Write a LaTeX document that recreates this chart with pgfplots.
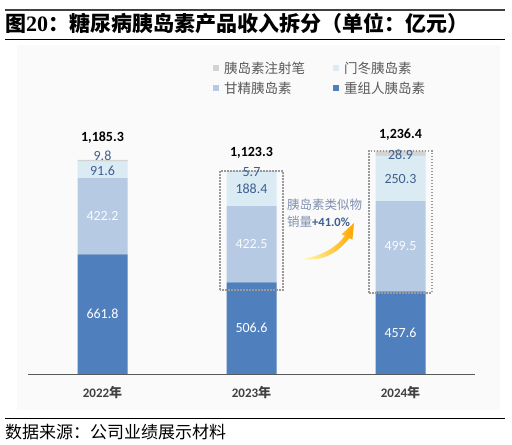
\documentclass[border=0pt]{standalone}
\usepackage{fontspec}
\usepackage{pgfplots}
\pgfplotsset{compat=1.18}
\setmainfont{Carlito}
\newfontfamily\cjk{Noto Sans CJK SC}
\newfontfamily\serifb{Liberation Serif}
\definecolor{cDark}{HTML}{4F7FBC}
\definecolor{cGan}{HTML}{B7CAE4}
\definecolor{cMen}{HTML}{DBEBF4}
\definecolor{cPen}{HTML}{D3D3D3}
\definecolor{cLab}{HTML}{3F5F8F}
\definecolor{cLeg}{HTML}{595959}
\definecolor{cAxis}{HTML}{595959}
\definecolor{cBox}{HTML}{9A9A9A}
\definecolor{cAnn}{HTML}{8090AE}
\begin{document}
\begin{tikzpicture}
\path[use as bounding box] (0,0) rectangle (512bp,445bp);
% background panel
\fill[white!98!black] (17bp,35bp) rectangle (500bp,400bp);
% rules
\draw[line width=2bp, black!75] (5bp,435bp) -- (505bp,435bp);
\draw[line width=0.8bp, black] (5bp,405.5bp) -- (505bp,405.5bp);
\draw[line width=0.8bp, black] (5bp,27bp) -- (505bp,27bp);
% title
\node[anchor=west, inner sep=0pt] at (5bp,422bp) {\fontsize{21bp}{24bp}\selectfont\cjk\bfseries 图{\serifb\bfseries\fontsize{22bp}{24bp}\selectfont 20}：糖尿病胰岛素产品收入拆分（单位：亿元）};
% source
\node[anchor=west, inner sep=0pt] at (5bp,13bp) {\fontsize{17bp}{19bp}\selectfont\cjk 数据来源：公司业绩展示材料};
% legend
\fill[cPen] (213bp,374bp) rectangle (219bp,380bp);
\node[anchor=west, inner sep=0pt, text=cLeg] at (224bp,377bp) {\fontsize{13.5bp}{15bp}\selectfont\cjk 胰岛素注射笔};
\fill[cMen] (333bp,374bp) rectangle (339bp,380bp);
\node[anchor=west, inner sep=0pt, text=cLeg] at (344bp,377bp) {\fontsize{13.5bp}{15bp}\selectfont\cjk 门冬胰岛素};
\fill[cGan] (213bp,354bp) rectangle (219bp,360bp);
\node[anchor=west, inner sep=0pt, text=cLeg] at (224bp,357bp) {\fontsize{13.5bp}{15bp}\selectfont\cjk 甘精胰岛素};
\fill[cDark] (333bp,354bp) rectangle (339bp,360bp);
\node[anchor=west, inner sep=0pt, text=cLeg] at (344bp,357bp) {\fontsize{13.5bp}{15bp}\selectfont\cjk 重组人胰岛素};
\begin{axis}[
  at={(28bp,71bp)}, anchor=south west,
  scale only axis, width=447bp, height=234.8bp,
  xmin=-0.5, xmax=2.5, ymin=0, ymax=1300,
  ybar stacked, bar width=50bp,
  axis y line=none, axis x line*=bottom,
  x axis line style={draw=cAxis, line width=0.8bp},
  xtick={0,1,2},
  xticklabels={2022{\cjk 年},2023{\cjk 年},2024{\cjk 年}},
  xtick style={draw=none},
  xticklabel style={anchor=center, yshift=-19bp, font=\fontsize{13bp}{15bp}\selectfont\bfseries, text=black!75},
  clip=false,
]
\addplot[fill=cDark, draw=none] coordinates {(0,661.8) (1,506.6) (2,457.6)};
\addplot[fill=cGan, draw=none] coordinates {(0,422.2) (1,422.5) (2,499.5)};
\addplot[fill=cMen, draw=none] coordinates {(0,91.6) (1,188.4) (2,250.3)};
\addplot[fill=cPen, draw=none] coordinates {(0,9.8) (1,5.7) (2,28.9)};
\coordinate (b1a) at (axis cs:0.79,465);
\coordinate (b1b) at (axis cs:1.21,1125);
\coordinate (b2a) at (axis cs:1.79,448);
\coordinate (b2b) at (axis cs:2.21,1236);
\coordinate (l01) at (axis cs:0,330.9);
\coordinate (l02) at (axis cs:0,872.9);
\coordinate (l03) at (axis cs:0,1124);
\coordinate (l04) at (axis cs:0,1208);
\coordinate (l05) at (axis cs:0,1310);
\coordinate (l11) at (axis cs:1,253.3);
\coordinate (l12) at (axis cs:1,717.9);
\coordinate (l13) at (axis cs:1,1023.3);
\coordinate (l14) at (axis cs:1,1118.5);
\coordinate (l15) at (axis cs:1,1223.7);
\coordinate (l21) at (axis cs:2,228.8);
\coordinate (l22) at (axis cs:2,707.4);
\coordinate (l23) at (axis cs:2,1082.2);
\coordinate (l24) at (axis cs:2,1212.6);
\coordinate (l25) at (axis cs:2,1323);
\end{axis}
% dotted boxes
\draw[cBox, line width=1.6bp, dash pattern=on 1.6bp off 1.4bp] (b1a) rectangle (b1b);
\draw[cBox, line width=1.6bp, dash pattern=on 1.6bp off 1.4bp] (b2a) rectangle (b2b);
% value labels
\tikzset{vl/.style={font=\fontsize{14bp}{16bp}\selectfont, inner sep=0pt}}
\node[vl, text=white] at (l01) {661.8};
\node[vl, text=white!93!cGan] at (l02) {422.2};
\node[vl, text=cLab] at (l03) {91.6};
\node[vl, text=cLab] at (l04) {9.8};
\node[vl, font=\fontsize{14bp}{16bp}\selectfont\bfseries] at (l05) {1,185.3};
\node[vl, text=white] at (l11) {506.6};
\node[vl, text=white!93!cGan] at (l12) {422.5};
\node[vl, text=cLab] at (l13) {188.4};
\node[vl, text=cLab] at (l14) {5.7};
\node[vl, font=\fontsize{14bp}{16bp}\selectfont\bfseries] at (l15) {1,123.3};
\node[vl, text=white] at (l21) {457.6};
\node[vl, text=white!93!cGan] at (l22) {499.5};
\node[vl, text=cLab] at (l23) {250.3};
\node[vl, text=cLab] at (l24) {28.9};
\node[vl, font=\fontsize{14bp}{16bp}\selectfont\bfseries] at (l25) {1,236.4};
% annotation
\node[anchor=west, inner sep=0pt, text=cAnn] at (287bp,240bp) {\fontsize{12.5bp}{14bp}\selectfont\cjk 胰岛素类似物};
\node[anchor=west, inner sep=0pt, text=cAnn] at (287bp,223bp) {\fontsize{12.5bp}{14bp}\selectfont{\cjk 销量}{\color{cLab}\bfseries +41.0\%}};
\shade[left color=yellow!30!white, right color=orange!70!yellow] (302bp,186bp) .. controls (320bp,188.5bp) and (336bp,197bp) .. (344.8bp,209.1bp) -- (341.6bp,210.7bp) -- (354bp,222bp) -- (352.4bp,205.3bp) -- (349.2bp,206.9bp) .. controls (338bp,192bp) and (322bp,183bp) .. (302bp,186bp) -- cycle;
\end{tikzpicture}
\end{document}
